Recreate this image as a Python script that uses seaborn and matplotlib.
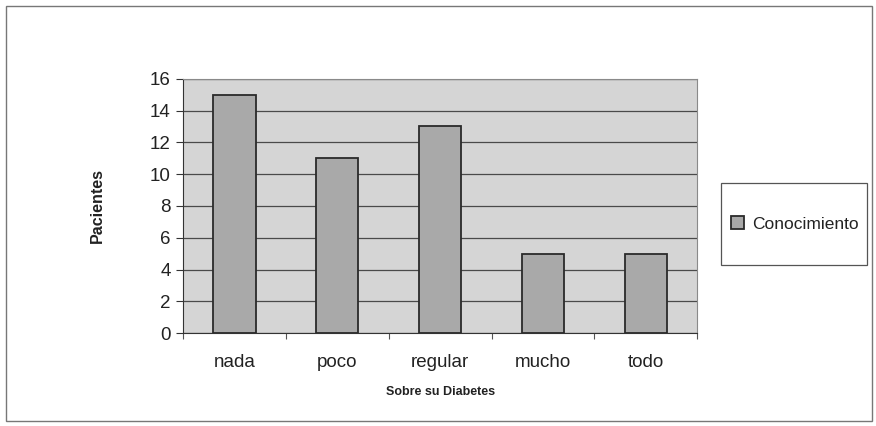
import matplotlib
matplotlib.use("Agg")
import matplotlib.pyplot as plt
import seaborn as sns
import pandas as pd
from matplotlib.patches import Rectangle

categories = ["nada", "poco", "regular", "mucho", "todo"]
values = [15, 11, 13, 5, 5]
series_name = "Conocimiento"
y_ticks = [0, 2, 4, 6, 8, 10, 12, 14, 16]

df = pd.DataFrame({"cat": categories, "val": values})

sns.set_theme(style="white")
plt.rcParams["font.family"] = ["Liberation Sans", "DejaVu Sans"]

fig = plt.figure(figsize=(8.76, 4.26), dpi=100)
fig.patch.set_facecolor("white")
ax = fig.add_axes([0.209, 0.218, 0.587, 0.597])
ax.set_facecolor("#d5d5d5")

sns.barplot(data=df, x="cat", y="val", ax=ax, color="#a9a9a9", width=0.41,
            edgecolor="#2a2a2a", linewidth=1.3, saturation=1, label=series_name)

ax.set_ylim(0, 16)
ax.set_yticks(y_ticks)
ax.set_xlim(-0.5, len(categories) - 0.5)
ax.yaxis.grid(True, color="#4a4a4a", linewidth=0.9)
ax.set_axisbelow(True)
for s in ax.spines.values():
    s.set_color("#8a8a8a")
    s.set_linewidth(0.8)
ax.spines["left"].set_color("#333333")
ax.spines["bottom"].set_color("#333333")

ax.tick_params(axis="y", which="major", direction="out", length=5, width=0.8,
               color="#333333", labelsize=13.5, pad=4, left=True)
ax.tick_params(axis="x", which="major", length=0, labelsize=13.5, pad=15)
ax.set_xticks([i + 0.5 for i in range(-1, len(categories))], minor=True)
ax.tick_params(axis="x", which="minor", direction="out", length=4, width=0.8,
               color="#555555", bottom=True)
for t in ax.get_yticklabels() + ax.get_xticklabels():
    t.set_color("#222222")

ax.set_xlabel("Sobre su Diabetes", fontsize=9, fontweight="bold", labelpad=11, color="#222222")
ax.set_ylabel("Pacientes", fontsize=11.5, fontweight="bold", labelpad=32, color="#222222")

# legend box on the right
fig.add_artist(Rectangle((721 / 876, 1 - 265 / 426), 146 / 876, 82 / 426,
                         transform=fig.transFigure, fill=True, facecolor="white",
                         edgecolor="#555555", linewidth=0.9, zorder=-1))
leg = ax.legend(loc="center left", bbox_to_anchor=(731 / 876, 1 - 224 / 426),
                bbox_transform=fig.transFigure, frameon=False,
                fontsize=12.5, handlelength=0.75, handleheight=0.75,
                borderaxespad=0, borderpad=0, handletextpad=0.45)
for t in leg.get_texts():
    t.set_color("#222222")

# outer chart border
fig.add_artist(Rectangle((0.007, 0.012), 0.988, 0.974, transform=fig.transFigure,
                         fill=False, edgecolor="#777777", linewidth=1.0))

fig.savefig("out.png", dpi=100)
